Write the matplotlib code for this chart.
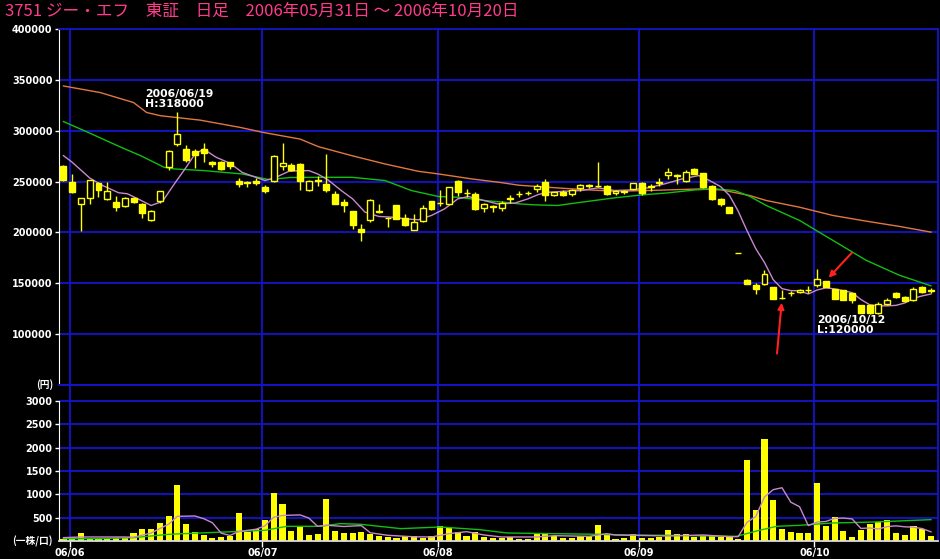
import matplotlib
matplotlib.use("Agg")
import matplotlib.pyplot as plt
import numpy as np

# daily prices 2006/05/31 - 2006/10/20 (100 trading days)
opens = [265000, 250000, 228000, 233500, 248500, 233000, 229500, 226000, 233500, 227500,
         212500, 230500, 264000, 287000, 282000, 280500, 282000, 269500, 269500, 269000,
         251000, 249500, 251000, 245000, 251000, 265000, 266500, 267500, 241500, 251500,
         247500, 238000, 229500, 221000, 203500, 212000, 220500, 214500, 226500, 214500,
         202500, 211000, 230500, 229000, 228000, 251000, 238500, 238000, 224000, 225500,
         224000, 233000, 238000, 238500, 243000, 249500, 236500, 239500, 237500, 244000,
         246000, 245500, 246000, 239000, 240000, 243000, 248500, 245500, 249000, 256000,
         256000, 251000, 262500, 258000, 246000, 233000, 225000, 180000, 153500, 148500,
         149500, 146000, 135500, 140000, 141000, 143000, 148000, 152000, 144000, 143000,
         140000, 128500, 128500, 121000, 129500, 140500, 136500, 133500, 146000, 142500]
highs = [266000, 257500, 234000, 252000, 249500, 249500, 236000, 234500, 234500, 228500,
         222000, 241000, 281000, 318000, 286000, 282500, 288000, 270500, 270000, 269500,
         254000, 250500, 253500, 247000, 276000, 288000, 268000, 268000, 252000, 255000,
         277000, 241000, 233000, 221500, 208500, 232500, 227500, 215000, 227000, 218000,
         218500, 226500, 231000, 242000, 245000, 251500, 243000, 239500, 229000, 226500,
         230500, 236500, 240500, 241000, 247500, 252500, 240000, 241500, 243000, 247500,
         248000, 269000, 246500, 241500, 242000, 249000, 249500, 248000, 253500, 263500,
         257500, 261700, 263000, 258500, 246500, 233500, 225000, 180000, 154000, 150000,
         163500, 146000, 143000, 142500, 144000, 147400, 164500, 152500, 144500, 143500,
         140500, 129000, 129000, 132000, 135500, 141500, 137500, 146400, 147000, 145000]
lows = [251000, 239000, 201000, 227500, 235000, 232000, 221500, 225000, 229000, 214500,
        211500, 228500, 261500, 284500, 269500, 263500, 269000, 264000, 261500, 262500,
        245000, 245000, 247000, 238500, 250000, 261500, 260500, 242000, 240500, 246000,
        239500, 227500, 220000, 203500, 192000, 210000, 219000, 205000, 213000, 206500,
        202000, 210000, 222500, 226000, 227500, 236000, 234500, 222000, 220000, 220000,
        221500, 229000, 235000, 236500, 239500, 230500, 235500, 235500, 236000, 240500,
        244000, 245000, 237000, 237000, 238000, 242000, 236500, 240500, 246000, 252500,
        247700, 249300, 257000, 243800, 232000, 225500, 219000, 180000, 149500, 139000,
        148000, 134500, 135000, 137300, 140500, 140500, 146500, 146000, 134500, 133500,
        131000, 120500, 120200, 120000, 128500, 136000, 132000, 133000, 140500, 140000]
closes = [252000, 240000, 233500, 251500, 242000, 241000, 225000, 233500, 229500, 219000,
          221000, 240500, 280500, 296500, 271500, 276500, 278000, 267500, 262500, 265000,
          248000, 249000, 248500, 240500, 275500, 268000, 261500, 251000, 251000, 250500,
          242000, 228000, 226500, 207000, 200500, 232000, 221500, 214000, 213500, 207000,
          210000, 224000, 223000, 228500, 244500, 239500, 239000, 223000, 227500, 225000,
          228500, 233500, 237500, 239000, 246000, 236500, 239500, 236500, 242000, 247000,
          246500, 246000, 237500, 240500, 240500, 248500, 238500, 245000, 249500, 259000,
          255500, 259000, 257500, 245000, 232500, 227500, 219500, 180000, 149700, 144000,
          159000, 135000, 136000, 140000, 143000, 143500, 154500, 146500, 135000, 134000,
          134000, 121000, 120500, 130000, 133500, 136500, 132500, 144000, 141500, 143000]
volumes = [40, 85, 170, 60, 55, 55, 55, 55, 172, 250,
           250, 393, 544, 1209, 358, 186, 129, 72, 93, 114,
           601, 193, 265, 458, 1037, 787, 207, 305, 125, 145,
           908, 207, 172, 172, 193, 143, 100, 86, 64, 100,
           100, 72, 100, 315, 279, 186, 107, 186, 86, 64,
           64, 79, 50, 50, 157, 157, 100, 64, 64, 100,
           100, 336, 118, 40, 64, 143, 64, 64, 93, 229,
           150, 143, 93, 107, 122, 93, 86, 50, 1730, 658,
           2195, 872, 250, 186, 172, 172, 1244, 315, 515, 207,
           86, 229, 358, 408, 458, 172, 122, 315, 265, 107]

# moving averages
ma5_x = [0, 1, 3, 4.5, 6.3, 7.3, 8.5, 10, 11.3, 12.8, 14, 15, 16, 17.4, 19, 20.4, 22, 23,
         24.2, 25.7, 26.5, 28, 29, 30.2, 31.7, 33, 34.4, 36, 37.5, 39, 40.5, 42, 43.5, 45,
         46.2, 48, 49.5, 51.5, 53, 54.2, 55.3, 57.2, 59.1, 61, 62.9, 64.8, 66.7, 68.6, 70.6,
         72.5, 73.6, 75, 76, 77, 78, 79, 80, 81, 82, 83, 84, 85, 86, 87, 88, 89, 90, 91, 92,
         93, 94, 95, 96, 97, 98, 99]
ma5_v = [275500, 269000, 253500, 246000, 239000, 238000, 233000, 226500, 230500, 249500,
         264000, 277000, 282000, 274000, 268000, 259000, 254000, 251000, 254000, 260000,
         260500, 260800, 257500, 251600, 241200, 233000, 220000, 215700, 215000, 213400,
         212400, 216700, 223200, 233000, 235300, 231400, 228100, 228800, 233000, 237300,
         239500, 240500, 241200, 243800, 241200, 241800, 243800, 247700, 252600, 255900,
         251600, 245000, 236400, 220900, 201800, 184100, 170400, 153500, 144700, 142800,
         142600, 139500, 143400, 145500, 144500, 142700, 140800, 134100, 128900, 127900,
         127800, 128300, 130600, 135300, 137600, 139500]
ma25_x = [0, 2.8, 6.6, 8.8, 11.5, 12.7, 16, 20.4, 23.4, 25.9, 29.1, 32.9, 36.7, 39.7, 42.8,
          45, 48, 50.3, 52, 53.8, 56.4, 59.1, 62.9, 66, 69, 72.1, 74.4, 76.6, 78.3, 80.2,
          84, 87.8, 91.6, 95.4, 99]
ma25_v = [309000, 298400, 283600, 275500, 264000, 262400, 260800, 257500, 252000, 254000,
          254200, 254200, 251000, 241200, 235300, 234600, 231400, 229700, 228100, 227100,
          226500, 229700, 234000, 236900, 238900, 241800, 242800, 241200, 235500, 226500,
          211800, 192200, 172600, 157900, 147500]
ma75_x = [0, 4.2, 8, 9.5, 11.1, 15.6, 20.2, 22.8, 27, 29.1, 32.9, 36.7, 40.5, 42.8, 46.6,
          49.7, 52, 55.3, 59.1, 62.9, 66.7, 70.5, 72.8, 75.1, 78.3, 80.2, 84, 87.8, 91.6,
          95.4, 99]
ma75_v = [344000, 337500, 327700, 317900, 314700, 310400, 303200, 298300, 291800, 284300,
          275500, 267300, 260100, 257500, 252600, 249300, 246400, 244400, 242200, 240500,
          241200, 242200, 242800, 241800, 236300, 231400, 224800, 216700, 211100, 205900,
          200300]

vma5_x = [0, 2, 7, 8, 10, 12, 13, 15, 16, 17, 18, 19, 20, 22, 23, 24, 25, 27, 28, 29, 30,
          32, 34, 35, 37, 40, 42, 44, 46, 48, 50, 54, 56, 60, 62, 63, 65, 69, 73, 76, 77,
          78, 79, 80, 81, 82, 83, 84, 85, 86, 87, 88, 89, 90, 91, 92, 93, 94, 95, 96, 97,
          98, 99]
vma5_v = [72, 86, 86, 80, 170, 360, 529, 536, 479, 391, 168, 119, 202, 253, 326, 511, 548,
          559, 492, 314, 338, 311, 330, 177, 122, 90, 86, 157, 200, 129, 86, 86, 114, 100,
          157, 129, 122, 107, 129, 93, 93, 400, 523, 944, 1101, 1141, 832, 735, 330, 405,
          418, 484, 491, 473, 270, 279, 258, 308, 325, 304, 295, 266, 196]
vma25_x = [0, 4, 8, 12, 15.6, 19.4, 23, 25.5, 27, 29.3, 31.6, 33.9, 38.5, 43, 47.5, 50.6,
           55.9, 61.2, 63.5, 68.8, 76.8, 79.1, 81.4, 84, 87.8, 92.7, 99]
vma25_v = [50, 50, 72, 143, 172, 200, 229, 315, 315, 315, 372, 358, 265, 300, 243, 172,
           157, 143, 129, 122, 100, 215, 315, 336, 386, 408, 458]

month_starts = [1, 23, 43, 66, 86]
month_labels = ["06/06", "06/07", "06/08", "06/09", "06/10"]

title = "3751 ジー・エフ　東証　日足　2006年05月31日 ～ 2006年10月20日"
hi_text = "2006/06/19\nH:318000"
lo_text = "2006/10/12\nL:120000"

YELLOW = "#ffff00"
BLUE = "#1414d0"
W, H = 940, 559


def px_rect(l, t, r, b):
    return [l / W, 1 - b / H, (r - l) / W, (b - t) / H]


fig = plt.figure(figsize=(W / 100, H / 100), dpi=100, facecolor="black")
ax = fig.add_axes(px_rect(59.5, 29, 938, 385))
axv = fig.add_axes(px_rect(59.5, 385, 938, 541))

x = np.arange(len(closes))
o, h, l, c = map(np.array, (opens, highs, lows, closes))

for a in (ax, axv):
    a.set_facecolor("black")
    a.set_xlim(-0.45, 99.8)
    for g in month_starts:
        a.axvline(g - 0.3, color=BLUE, lw=1.3, zorder=0)
    for s in ("top", "right", "bottom"):
        a.spines[s].set_color(BLUE)
        a.spines[s].set_linewidth(1.3)
    a.spines["left"].set_color("white")

# price panel
ax.set_ylim(50000, 400000)
for v in range(100000, 400000, 50000):
    ax.axhline(v, color=BLUE, lw=1.3, zorder=0)

ax.plot(ma75_x, ma75_v, color="#e07840", lw=1, zorder=1)
ax.plot(ma25_x, ma25_v, color="#10c010", lw=1, zorder=1)
ax.plot(ma5_x, ma5_v, color="#c888d0", lw=1, zorder=1)

up = c >= o
ax.vlines(x, l, h, color=YELLOW, lw=1, zorder=2)
ax.bar(x, np.abs(c - o), bottom=np.minimum(o, c), width=0.68,
       color=np.where(up, "black", YELLOW), edgecolor=YELLOW, lw=1, zorder=3)

hi_i = int(np.argmax(h))
lo_i = int(np.argmin(l))
ax.annotate(hi_text, xy=(hi_i, h[hi_i]), xytext=(-32, 3), textcoords="offset pixels",
            ha="left", va="bottom", multialignment="left", color="white",
            fontsize=7.8, fontweight="bold", linespacing=1.0)
ax.annotate(lo_text, xy=(lo_i, l[lo_i]), xytext=(-61, -1), textcoords="offset pixels",
            ha="left", va="top", multialignment="left", color="white",
            fontsize=7.8, fontweight="bold", linespacing=1.0)

arrow = dict(arrowstyle="-|>", color="#ff2020", lw=1.5, mutation_scale=9,
             shrinkA=0, shrinkB=3)
ax.annotate("", xy=(82, l[82]), xytext=(-5, -55), textcoords="offset pixels",
            arrowprops=arrow)
ax.annotate("", xy=(87, h[87]), xytext=(26, 28), textcoords="offset pixels",
            arrowprops=arrow)

ax.set_xticks([])
ax.set_yticks(range(100000, 400001, 50000))
ax.set_yticklabels([str(v) for v in range(100000, 400001, 50000)],
                   fontweight="bold")
ax.tick_params(axis="y", colors="white", labelsize=7, length=3, width=1, pad=2)

# volume panel
axv.set_ylim(0, 3000 * 156 / 140)
for v in range(500, 3001, 500):
    axv.axhline(v, color=BLUE, lw=1.3, zorder=0)
axv.spines["bottom"].set_color("#dddddd")
axv.spines["left"].set_bounds(0, 3000)

axv.bar(x, volumes, width=0.7, color=YELLOW, zorder=2)
axv.plot(vma25_x, vma25_v, color="#10c010", lw=1, zorder=3)
axv.plot(vma5_x, vma5_v, color="#c888d0", lw=1, zorder=3)

axv.set_yticks(range(500, 3001, 500))
axv.set_yticklabels([str(v) for v in range(500, 3001, 500)], fontweight="bold")
axv.tick_params(axis="y", colors="white", labelsize=7, length=3, width=1, pad=2)
axv.set_xticks([g - 0.3 for g in month_starts])
axv.set_xticklabels(month_labels, fontweight="bold")
axv.tick_params(axis="x", colors="white", labelsize=7, length=4, width=1, pad=1)

cjk = ["Noto Sans CJK JP", "DejaVu Sans"]
fig.text(5 / W, 1 - 11 / H, title, family=cjk, color="#ff3c8c", fontsize=12,
         va="center", ha="left")
fig.text(53 / W, 1 - 385 / H, "(円)", family=cjk, color="white", fontsize=7,
         fontweight="bold", ha="right", va="center")
fig.text(53 / W, 1 - 541 / H, "(一株/口)", family=cjk, color="white", fontsize=7,
         fontweight="bold", ha="right", va="center")

fig.savefig("out.png", dpi=100, facecolor="black")
